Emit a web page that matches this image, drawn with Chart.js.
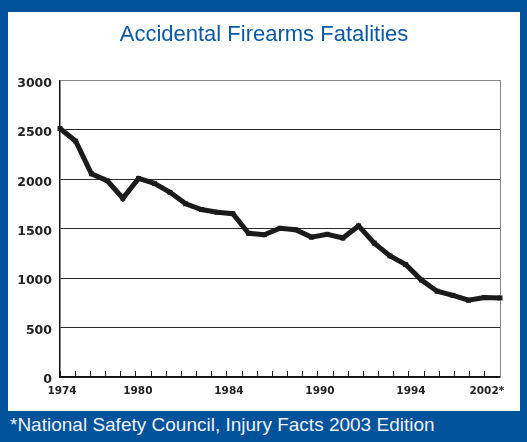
<!DOCTYPE html>
<html><head><meta charset="utf-8">
<script src="https://cdn.jsdelivr.net/npm/chart.js@4"></script>
<style>
html,body{margin:0;padding:0;background:#00529b;width:527px;height:442px;overflow:hidden}
#panel{position:absolute;left:8px;top:12px;width:512px;height:399px;background:#fff}
#note{position:absolute;left:10px;top:415px;color:#eef3f9;font:19px/19px "Liberation Sans",Arial,sans-serif;white-space:nowrap}
canvas{display:block}
</style></head><body>
<div id="panel"><canvas id="c" width="512" height="399"></canvas></div>
<div id="note">*National Safety Council, Injury Facts 2003 Edition</div>
<script>
// data
const years = ['1974','1975','1976','1977','1978','1979','1980','1981','1982','1983','1984','1985','1986','1987','1988','1989','1990','1991','1992','1993','1994','1995','1996','1997','1998','1999','2000','2001','2002'];
const fatalities = [2513,2385,2056,1986,1808,2008,1958,1868,1752,1694,1666,1652,1454,1439,1504,1489,1415,1443,1406,1528,1354,1225,1137,981,868,826,777,803,800];
// x-axis tick-mark slots (30 marks) and their labels
const tickLabels = ['1974','','','','','1980','','','','','','1984','','','','','','1990','','','','','','1994','','','','','2002*',''];
const yTickValues = [0,500,1000,1500,2000,2500,3000];

const blue = '#0c58a3';
new Chart(document.getElementById('c'), {
  type: 'line',
  data: {
    labels: years,
    datasets: [{
      data: fatalities,
      xAxisID: 'x', yAxisID: 'y',
      borderColor: '#1b1b1b', borderWidth: 5,
      pointStyle: 'rect', pointRadius: 3.5, pointBorderWidth: 0,
      pointBackgroundColor: '#1b1b1b',
      tension: 0, clip: false
    }]
  },
  options: {
    responsive: false, animation: false,
    layout: { padding: 0 },
    plugins: {
      legend: { display: false }, tooltip: { enabled: false },
      title: {
        display: true, text: 'Accidental Firearms Fatalities', color: blue,
        font: { family: '"Liberation Sans", Arial, sans-serif', size: 22, weight: 'normal' },
        padding: { top: 10, bottom: 32 }
      }
    },
    scales: {
      x: { type: 'category', display: false, offset: false },
      x2: {
        type: 'category', labels: tickLabels, position: 'bottom', offset: false,
        grid: { drawOnChartArea: false, drawTicks: true, tickLength: -6, color: '#222', lineWidth: 1 },
        border: { display: true, color: '#111', width: 1.5 },
        ticks: { autoSkip: false, maxRotation: 0, minRotation: 0, padding: 14, labelOffset: 2,
          color: '#222', font: { family: '"DejaVu Sans", sans-serif', weight: 'bold', size: 10.5 } },
        afterFit(s) { s.height = 34; }
      },
      y: {
        min: 0, max: 3000, position: 'left',
        afterBuildTicks(s) { s.ticks = yTickValues.map(v => ({ value: v })); },
        ticks: { padding: 8, labelOffset: 3, color: '#222',
          callback: v => String(v),
          font: { family: '"DejaVu Sans", sans-serif', weight: 'bold', size: 12.5 } },
        grid: { drawTicks: false, lineWidth: 1,
          color: ctx => (ctx.tick && ctx.tick.value === 3000) ? '#888' : '#2a2a2a' },
        border: { display: true, color: '#111', width: 1.5 },
        afterFit(s) { s.width = 52; }
      },
      yR: {
        min: 0, max: 3000, position: 'right',
        ticks: { display: false }, grid: { display: false },
        border: { display: true, color: '#888', width: 1 },
        afterFit(s) { s.width = 20; }
      }
    }
  }
});
</script>
</body></html>
